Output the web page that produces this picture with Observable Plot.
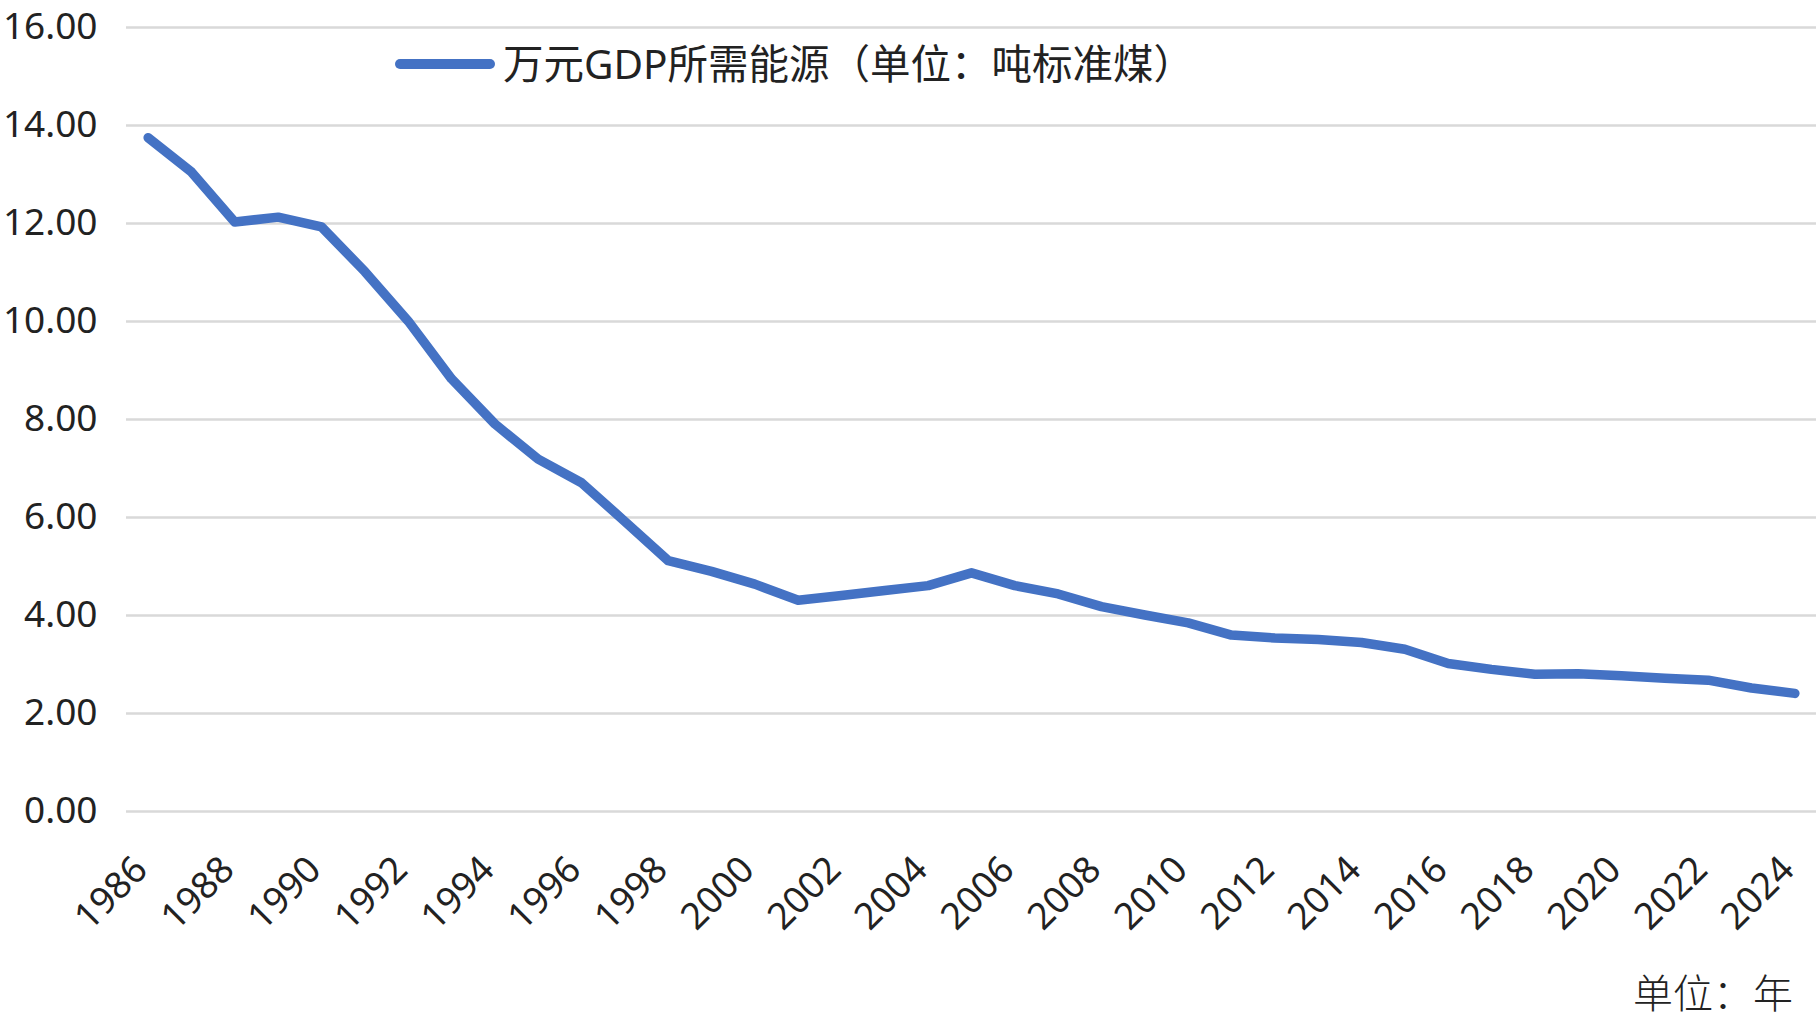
<!DOCTYPE html>
<html>
<head>
<meta charset="utf-8">
<script src="https://cdn.jsdelivr.net/npm/d3@7"></script>
<script src="https://cdn.jsdelivr.net/npm/@observablehq/plot@0.6"></script>
<style>
  html, body { margin: 0; padding: 0; background: #fff; }
  #wrap { position: relative; width: 1816px; height: 1019px; overflow: hidden; color: #222;
          font-family: "Noto Sans", "Noto Sans CJK SC", sans-serif; }
  #chart svg { display: block; }
  #legend { position: absolute; left: 395px; top: 40px; height: 48px; display: flex; align-items: center; }
  #legend .swatch { width: 100px; height: 10px; border-radius: 5px; background: #4472c4; margin-right: 8px; }
  #legend .ltext { font-family: "Noto Sans", "Noto Sans CJK SC", sans-serif; font-size: 40.5px; line-height: 48px; color: #222; white-space: nowrap; }
  #caption { position: absolute; right: 23px; top: 967px; font-family: "Noto Sans CJK SC", sans-serif; font-weight: 300;
             font-size: 40px; line-height: 48px; color: #222; white-space: nowrap; }
</style>
</head>
<body>
<div id="wrap">
  <div id="chart"></div>
  <div id="legend"><span class="swatch"></span><span class="ltext"></span></div>
  <div id="caption"></div>
</div>
<script>
const years = [1986, 1987, 1988, 1989, 1990, 1991, 1992, 1993, 1994, 1995,
               1996, 1997, 1998, 1999, 2000, 2001, 2002, 2003, 2004, 2005,
               2006, 2007, 2008, 2009, 2010, 2011, 2012, 2013, 2014, 2015,
               2016, 2017, 2018, 2019, 2020, 2021, 2022, 2023, 2024];
const energyPerGDP = [13.75, 13.05, 12.03, 12.13, 11.93, 11.02, 10.01, 8.83, 7.91, 7.19,
                      6.71, 5.92, 5.12, 4.90, 4.64, 4.31, 4.41, 4.51, 4.61, 4.87,
                      4.61, 4.44, 4.18, 4.01, 3.85, 3.60, 3.54, 3.51, 3.45, 3.31,
                      3.02, 2.90, 2.80, 2.81, 2.77, 2.72, 2.68, 2.52, 2.41];
const yTicks = [0, 2, 4, 6, 8, 10, 12, 14, 16];
const xTickYears = [1986, 1988, 1990, 1992, 1994, 1996, 1998, 2000, 2002, 2004,
                    2006, 2008, 2010, 2012, 2014, 2016, 2018, 2020, 2022, 2024];
const seriesName = "万元GDP所需能源（单位：吨标准煤）";
const captionText = "单位：年";

const data = years.map((year, i) => ({year, value: energyPerGDP[i]}));

const chart = Plot.plot({
  width: 1816,
  height: 1019,
  marginTop: 27,
  marginBottom: 208,
  marginLeft: 126,
  marginRight: 0,
  style: {fontFamily: '"Noto Sans", "Noto Sans CJK SC", sans-serif', color: "#222", background: "white", overflow: "visible"},
  x: {type: "linear", domain: [1985.5, 2024.5]},
  y: {domain: [0, 16]},
  marks: [
    Plot.ruleY(yTicks, {stroke: "#d9d9d9", strokeWidth: 2.5}),
    Plot.axisY({ticks: yTicks, tickFormat: d3.format(".2f"), tickSize: 0, tickPadding: 29, fontSize: 37, label: null}),
    Plot.axisX({ticks: xTickYears, tickFormat: d => String(d), tickSize: 0, tickRotate: -45, tickPadding: 52, dx: -7, fontSize: 37, label: null}),
    Plot.line(data, {x: "year", y: "value", stroke: "#4472c4", strokeWidth: 9.5, strokeLinecap: "round", strokeLinejoin: "round"})
  ]
});
document.getElementById("chart").appendChild(chart);
document.querySelector("#legend .ltext").textContent = seriesName;
document.getElementById("caption").textContent = captionText;
</script>
</body>
</html>
